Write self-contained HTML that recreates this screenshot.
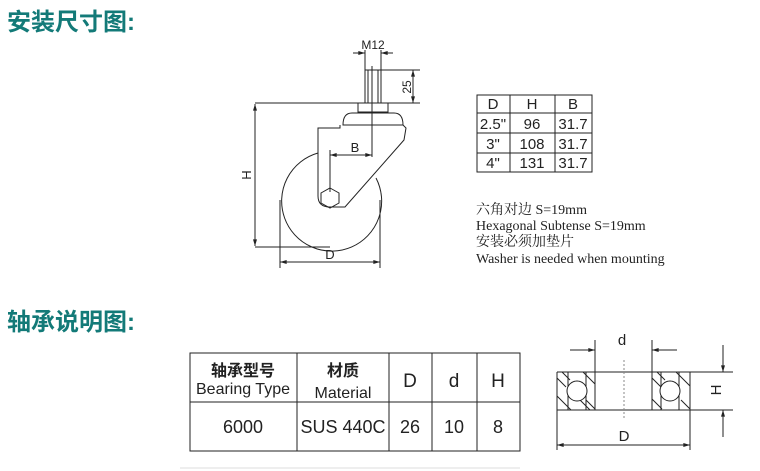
<!DOCTYPE html>
<html><head><meta charset="utf-8"><style>
html,body{margin:0;padding:0;background:#fff;}
svg{display:block;}
</style></head><body>
<svg width="760" height="471" viewBox="0 0 760 471" xmlns="http://www.w3.org/2000/svg">
<defs>
<marker id="a" viewBox="0 0 10 6" refX="10" refY="3" markerWidth="8" markerHeight="4" orient="auto-start-reverse"><path d="M0,0L10,3L0,6z" fill="#222"/></marker>
</defs>
<g font-family="Liberation Sans, Noto Sans CJK SC, sans-serif">
<text x="7" y="30" font-size="24" font-weight="bold" fill="#137a78">安装尺寸图:</text>
<text x="7" y="330" font-size="24" font-weight="bold" fill="#137a78">轴承说明图:</text>
</g>
<g stroke="#222" stroke-width="1" fill="none">
<line x1="365" y1="50" x2="365" y2="70"/><line x1="381" y1="50" x2="381" y2="70"/>
<line x1="353" y1="53" x2="365" y2="53" marker-end="url(#a)"/>
<line x1="393" y1="53" x2="381" y2="53" marker-end="url(#a)"/>
<rect x="365" y="70" width="16" height="33"/>
<line x1="368" y1="70" x2="368" y2="103"/><line x1="378" y1="70" x2="378" y2="103"/>
<line x1="381" y1="70" x2="420" y2="70"/>
<line x1="255" y1="103" x2="420" y2="103"/>
<line x1="413" y1="70" x2="413" y2="103" marker-start="url(#a)" marker-end="url(#a)"/>
<rect x="358" y="103" width="30" height="9"/>
<path d="M343,125 Q343,113 352,113 L394,113 Q403,113 403,125 Z"/>
<path d="M340,125 L340,128 L318,128 L318,196 Q318,207 330,207 L345,207 L404,140 L406,128 L403,125"/>
<path d="M318,153 A50,50 0 1,0 376,178"/>
<polygon points="330,188 339,193 339,203 330,208 321,203 321,193"/>
<line x1="372" y1="66" x2="372" y2="157"/>
<line x1="330" y1="150" x2="330" y2="192"/>
<line x1="330" y1="155" x2="372" y2="155" marker-start="url(#a)" marker-end="url(#a)"/>
<line x1="255" y1="247" x2="330" y2="247"/>
<line x1="255" y1="104" x2="255" y2="246" marker-start="url(#a)" marker-end="url(#a)"/>
<line x1="280" y1="200" x2="280" y2="268"/><line x1="380" y1="200" x2="380" y2="268"/>
<line x1="280" y1="262" x2="380" y2="262" marker-start="url(#a)" marker-end="url(#a)"/>
<rect x="477" y="95" width="115" height="77"/>
<line x1="477" y1="113" x2="592" y2="113"/><line x1="477" y1="133" x2="592" y2="133"/><line x1="477" y1="153" x2="592" y2="153"/>
<line x1="510" y1="95" x2="510" y2="172"/><line x1="555" y1="95" x2="555" y2="172"/>
<rect x="190" y="353" width="330" height="98"/>
<line x1="190" y1="402" x2="520" y2="402"/>
<line x1="297" y1="353" x2="297" y2="451"/><line x1="389" y1="353" x2="389" y2="451"/><line x1="432" y1="353" x2="432" y2="451"/><line x1="477" y1="353" x2="477" y2="451"/>
<line x1="557" y1="372" x2="733" y2="372"/><line x1="557" y1="410" x2="733" y2="410"/>
<line x1="557" y1="372" x2="557" y2="450"/><line x1="690" y1="372" x2="690" y2="450"/>
<line x1="595" y1="340" x2="595" y2="410"/><line x1="652" y1="340" x2="652" y2="410"/>
<line x1="568" y1="372" x2="568" y2="410"/><line x1="586" y1="372" x2="586" y2="410"/>
<line x1="661" y1="372" x2="661" y2="410"/><line x1="679" y1="372" x2="679" y2="410"/>
<line x1="557" y1="378" x2="566" y2="387"/><line x1="562" y1="372" x2="570" y2="380"/><line x1="586" y1="400" x2="595" y2="409"/><line x1="583" y1="372" x2="595" y2="384"/>
<line x1="557" y1="396" x2="571" y2="410"/><line x1="580" y1="400" x2="590" y2="410"/>
<line x1="652" y1="378" x2="661" y2="387"/><line x1="657" y1="372" x2="665" y2="380"/><line x1="681" y1="400" x2="690" y2="409"/><line x1="652" y1="399" x2="662" y2="409"/>
<line x1="676" y1="372" x2="690" y2="386"/>
<circle cx="577" cy="391" r="10" fill="#fff"/><circle cx="670" cy="391" r="10" fill="#fff"/>
<line x1="624" y1="360" x2="624" y2="418" stroke-dasharray="2,2" stroke="#888"/>
<line x1="570" y1="350" x2="595" y2="350" marker-end="url(#a)"/>
<line x1="677" y1="350" x2="652" y2="350" marker-end="url(#a)"/>
<line x1="557" y1="445" x2="690" y2="445" marker-start="url(#a)" marker-end="url(#a)"/>
<line x1="723" y1="345" x2="723" y2="372" marker-end="url(#a)"/>
<line x1="723" y1="437" x2="723" y2="410" marker-end="url(#a)"/>
</g>
<line x1="180" y1="468" x2="520" y2="468" stroke="#ddd"/>
<g font-family="Liberation Sans, Noto Sans CJK SC, sans-serif" fill="#222" text-anchor="middle">
<text x="373" y="49" font-size="12">M12</text>
<text transform="translate(411,87) rotate(-90)" font-size="12">25</text>
<text x="355" y="152" font-size="13">B</text>
<text transform="translate(251,175) rotate(-90)" font-size="13">H</text>
<text x="330" y="259" font-size="13">D</text>
<g font-size="15">
<text x="493" y="109">D</text><text x="532" y="109">H</text><text x="573" y="109">B</text>
<text x="493" y="129">2.5"</text><text x="532" y="129">96</text><text x="573" y="129">31.7</text>
<text x="493" y="149">3"</text><text x="532" y="149">108</text><text x="573" y="149">31.7</text>
<text x="493" y="168">4"</text><text x="532" y="168">131</text><text x="573" y="168">31.7</text>
</g>
<text x="243" y="376" font-size="16" font-weight="bold">轴承型号</text>
<text x="243" y="394" font-size="16">Bearing Type</text>
<text x="343" y="376" font-size="16" font-weight="bold">材质</text>
<text x="343" y="398" font-size="16">Material</text>
<text x="410" y="387" font-size="19">D</text><text x="454" y="387" font-size="19">d</text><text x="498" y="387" font-size="19">H</text>
<text x="243" y="433" font-size="18">6000</text>
<text x="343" y="433" font-size="18">SUS 440C</text>
<text x="410" y="433" font-size="18">26</text><text x="454" y="433" font-size="18">10</text><text x="498" y="433" font-size="18">8</text>
<text x="622" y="345" font-size="15">d</text>
<text x="624" y="441" font-size="15">D</text>
<text transform="translate(721,390) rotate(-90)" font-size="15">H</text>
</g>
<g font-family="Liberation Serif, Noto Serif CJK SC, serif" font-size="14" fill="#222">
<text x="476" y="214">六角对边 S=19mm</text>
<text x="476" y="230">Hexagonal Subtense S=19mm</text>
<text x="476" y="246">安装必须加垫片</text>
<text x="476" y="263">Washer is needed when mounting</text>
</g>
</svg>
</body></html>
